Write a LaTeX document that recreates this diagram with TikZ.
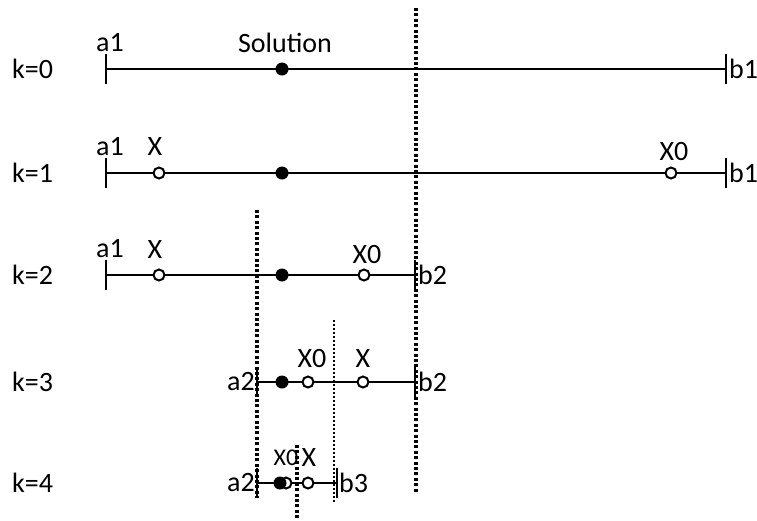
\documentclass[tikz,border=0pt]{standalone}
\usepackage{fontspec}
\setmainfont{Carlito}
\usetikzlibrary{positioning}

\tikzset{
  lbl/.style={font=\fontsize{28}{31}\selectfont, inner sep=0pt},
  sml/.style={font=\fontsize{24}{27}\selectfont, inner sep=0pt},
  solpt/.style={circle, fill=black, minimum size=13pt, inner sep=0pt},
  trypt/.style={circle, draw=black, fill=white, line width=2pt,
                minimum size=11pt, inner sep=0pt},
  seg/.style={line width=2.6pt},
  cut/.style={line width=3.2pt, dash pattern=on 3pt off 2.4pt},
  thincut/.style={line width=2pt, dash pattern=on 2pt off 2pt},
}
\newcommand{\bartick}[1]{\draw[seg] ([yshift=15pt]#1) -- ([yshift=-15pt]#1);}

\begin{document}
\begin{tikzpicture}[x=1pt, y=-1pt]
  \useasboundingbox (0,0) rectangle (757,520);

  % dotted cuts
  \coordinate (c1t) at (416,8);   \coordinate (c1b) at (416,492);
  \coordinate (c2t) at (257,210); \coordinate (c2b) at (257,498);
  \coordinate (c3t) at (334,320); \coordinate (c3b) at (334,502);
  \coordinate (c4t) at (297,445); \coordinate (c4b) at (297,520);
  \draw[cut] (c1t) -- (c1b);
  \draw[cut] (c2t) -- (c2b);
  \draw[thincut] (c3t) -- (c3b);
  \draw[cut] (c4t) -- (c4b);

  % k=0
  \node[lbl, anchor=west] (k0) at (12,69) {k=0};
  \coordinate (a0) at (106,69); \coordinate (b0) at (726,69);
  \draw[seg] (a0) -- (b0);
  \bartick{a0} \bartick{b0}
  \node[solpt] (s0) at (282,69) {};
  \node[lbl] (la0) at (110,43) {a1};
  \node[lbl] (sol) at (285,43) {Solution};
  \node[lbl, anchor=west] (lb0) at (729,69) {b1};

  % k=1
  \node[lbl, anchor=west] (k1) at (12,173) {k=1};
  \coordinate (a1) at (106,173); \coordinate (b1) at (726,173);
  \draw[seg] (a1) -- (b1);
  \bartick{a1} \bartick{b1}
  \node[solpt] (s1) at (282,173) {};
  \node[trypt] (x1) at (159,173) {};
  \node[trypt] (y1) at (671,173) {};
  \node[lbl] (la1) at (110,147) {a1};
  \node[lbl] (lx1) at (155,147) {X};
  \node[lbl] (ly1) at (674,152) {X0};
  \node[lbl, anchor=west] (lb1) at (729,173) {b1};

  % k=2
  \node[lbl, anchor=west] (k2) at (12,275) {k=2};
  \coordinate (a2) at (106,275); \coordinate (b2) at (415,275);
  \draw[seg] (a2) -- (b2);
  \bartick{a2} \bartick{b2}
  \node[solpt] (s2) at (282,275) {};
  \node[trypt] (x2) at (159,275) {};
  \node[trypt] (y2) at (364,275) {};
  \node[lbl] (la2) at (110,249) {a1};
  \node[lbl] (lx2) at (155,250) {X};
  \node[lbl] (ly2) at (367,255) {X0};
  \node[lbl, anchor=west] (lb2) at (418,275) {b2};

  % k=3
  \node[lbl, anchor=west] (k3) at (12,382) {k=3};
  \coordinate (a3) at (257,382); \coordinate (b3) at (415,382);
  \draw[seg] (a3) -- (b3);
  \bartick{a3} \bartick{b3}
  \node[solpt] (s3) at (282,382) {};
  \node[trypt] (x3) at (308,382) {};
  \node[trypt] (y3) at (363,382) {};
  \node[lbl, anchor=east] (la3) at (255,382) {a2};
  \node[lbl] (lx3) at (312,359) {X0};
  \node[lbl] (ly3) at (363,359) {X};
  \node[lbl, anchor=west] (lb3) at (418,382) {b2};

  % k=4
  \node[lbl, anchor=west] (k4) at (12,483) {k=4};
  \coordinate (a4) at (257,483); \coordinate (b4) at (337,483);
  \draw[seg] (a4) -- (b4);
  \bartick{a4} \bartick{b4}
  \node[trypt] (x4) at (286,483) {};
  \node[solpt] (s4) at (280,483) {};
  \node[trypt] (y4) at (308,483) {};
  \node[lbl, anchor=east] (la4) at (255,483) {a2};
  \node[sml] (lx4) at (286,458) {X0};
  \node[lbl] (ly4) at (309,458) {X};
  \node[lbl, anchor=west] (lb4) at (339,483) {b3};
\end{tikzpicture}
\end{document}
